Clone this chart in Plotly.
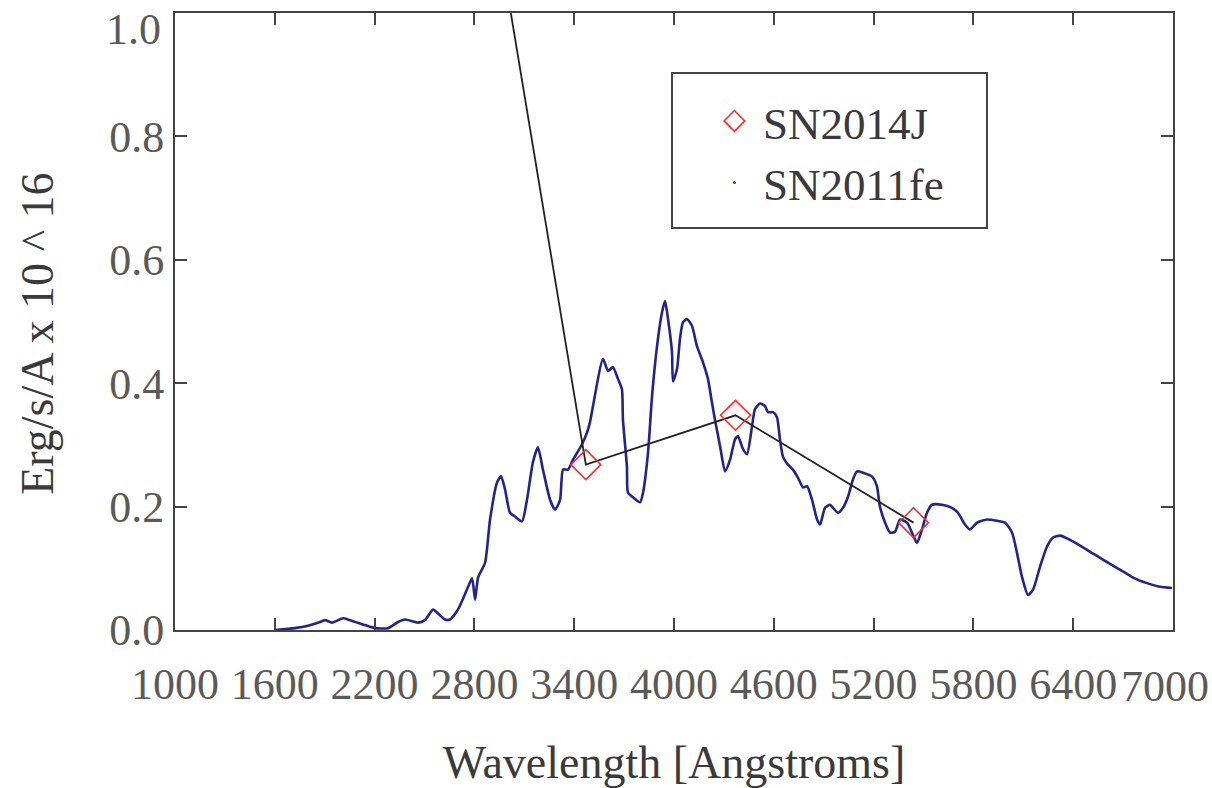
import plotly.graph_objects as go

# SN2011fe spectrum (wavelength in Angstroms, flux in erg/s/A x 10^16)
fe_wave = [1601, 1721, 1800, 1872, 1902, 1944, 2010, 2052, 2142, 2202, 2281, 2341, 2383, 2461,
           2503, 2551, 2581, 2623, 2653, 2701, 2762, 2786, 2804, 2822, 2864, 2894, 2936, 2960,
           2984, 3014, 3044, 3086, 3116, 3152, 3182, 3212, 3255, 3285, 3315, 3333, 3363, 3393,
           3447, 3477, 3495, 3573, 3603, 3633, 3663, 3687, 3693, 3717, 3723, 3754, 3796, 3814,
           3844, 3868, 3898, 3928, 3946, 3964, 3988, 3994, 4018, 4036, 4054, 4078, 4108, 4138,
           4174, 4204, 4228, 4246, 4277, 4307, 4337, 4367, 4385, 4415, 4439, 4469, 4487, 4517,
           4547, 4565, 4595, 4619, 4637, 4655, 4685, 4715, 4745, 4776, 4800, 4830, 4860, 4878,
           4908, 4938, 4956, 4986, 5016, 5046, 5076, 5100, 5136, 5190, 5220, 5238, 5269, 5299,
           5329, 5359, 5401, 5437, 5461, 5491, 5521, 5551, 5611, 5671, 5707, 5749, 5779, 5822,
           5882, 5942, 5990, 6032, 6062, 6092, 6128, 6158, 6200, 6242, 6279, 6321, 6381, 6483,
           6579, 6681, 6760, 6844, 6922, 6994]
fe_flux = [0.000, 0.003, 0.007, 0.013, 0.016, 0.012, 0.019, 0.016, 0.008, 0.003, 0.003, 0.013, 0.017, 0.012,
           0.016, 0.033, 0.027, 0.017, 0.017, 0.033, 0.070, 0.084, 0.049, 0.085, 0.109, 0.179, 0.239, 0.249,
           0.228, 0.190, 0.184, 0.176, 0.211, 0.272, 0.296, 0.260, 0.211, 0.195, 0.211, 0.260, 0.260, 0.276,
           0.301, 0.320, 0.337, 0.439, 0.420, 0.426, 0.407, 0.390, 0.341, 0.265, 0.223, 0.215, 0.207, 0.223,
           0.288, 0.379, 0.460, 0.515, 0.533, 0.504, 0.450, 0.403, 0.423, 0.472, 0.499, 0.504, 0.493, 0.460,
           0.434, 0.407, 0.369, 0.341, 0.298, 0.257, 0.276, 0.309, 0.314, 0.293, 0.285, 0.330, 0.358, 0.367,
           0.363, 0.353, 0.353, 0.345, 0.309, 0.281, 0.268, 0.260, 0.247, 0.231, 0.233, 0.211, 0.179, 0.171,
           0.198, 0.203, 0.198, 0.190, 0.198, 0.216, 0.244, 0.257, 0.255, 0.249, 0.233, 0.200, 0.174, 0.158,
           0.159, 0.179, 0.174, 0.154, 0.141, 0.163, 0.190, 0.203, 0.203, 0.198, 0.190, 0.171, 0.163, 0.174,
           0.179, 0.177, 0.174, 0.158, 0.125, 0.086, 0.057, 0.065, 0.102, 0.135, 0.150, 0.153, 0.146, 0.130,
           0.114, 0.098, 0.085, 0.076, 0.070, 0.068]

# SN2014J photometric points (first one lies above the plotted range)
j_wave = [2600, 3470, 4370, 5440]
j_flux = [1.68, 0.268, 0.348, 0.174]

x_ticks = [1000, 1600, 2200, 2800, 3400, 4000, 4600, 5200, 5800, 6400, 7000]
y_ticks = [0.0, 0.2, 0.4, 0.6, 0.8, 1.0]

SERIF = "Liberation Serif, Times New Roman, Times, serif"
TICK_FONT = dict(family=SERIF, size=44, color="#5a5a5a")
TITLE_FONT = dict(family=SERIF, size=46, color="#3a3a3a")

fig = go.Figure()

fig.add_trace(go.Scatter(x=fe_wave, y=fe_flux, mode="lines",
                         line=dict(color="#23238c", width=2.6, shape="spline", smoothing=0.6),
                         showlegend=False))
fig.add_trace(go.Scatter(x=j_wave, y=j_flux, mode="lines",
                         line=dict(color="#222222", width=1.8), showlegend=False))
fig.add_trace(go.Scatter(x=j_wave[1:], y=j_flux[1:], mode="markers", name="SN2014J",
                         marker=dict(symbol="diamond-open", size=23, color="#ff2a2a",
                                     line=dict(width=1.6, color="#ff2a2a"))))
fig.add_trace(go.Scatter(x=[None], y=[None], mode="markers", name="SN2011fe",
                         marker=dict(symbol="circle", size=3, color="#3535c8")))

axis_common = dict(showline=True, linecolor="#444444", linewidth=2, mirror="allticks",
                   ticks="inside", ticklen=12, tickwidth=2, tickcolor="#444444",
                   showgrid=False, zeroline=False, ticklabeloverflow="allow",
                   automargin=False, tickfont=TICK_FONT)

# edge labels (first/last) are placed as annotations so they stay inside the page
x_text = [str(v) for v in x_ticks[:-1]] + [""]
y_text = ["%.1f" % v for v in y_ticks[:-1]] + [""]

fig.update_xaxes(range=[1000, 7000], tickvals=x_ticks, ticktext=x_text,
                 ticklabelstandoff=14,
                 title=dict(text="Wavelength [Angstroms]", standoff=40, font=TITLE_FONT),
                 **axis_common)
fig.update_yaxes(range=[0, 1.0], tickvals=y_ticks, ticktext=y_text,
                 **axis_common)

fig.add_annotation(x=x_ticks[-1], xref="x", y=0, yref="paper", text=str(x_ticks[-1]),
                   showarrow=False, xanchor="center", yanchor="middle",
                   xshift=-8, yshift=-56, font=TICK_FONT)
fig.add_annotation(x=0, xref="paper", y=y_ticks[-1], yref="y", text="%.1f" % y_ticks[-1],
                   showarrow=False, xanchor="right", yanchor="top",
                   xshift=-12, yshift=10, font=TICK_FONT)
fig.add_annotation(x=-0.1373, xref="paper", y=0.48, yref="paper", text="Erg/s/A x 10 ^ 16",
                   showarrow=False, textangle=-90, xanchor="center", yanchor="middle",
                   font=TITLE_FONT)

# legend frame drawn separately so the entries can sit inside it like the original
fig.add_shape(type="rect", xref="paper", yref="paper",
              x0=0.498, x1=0.8136, y0=0.6515, y1=0.9027,
              line=dict(color="#444444", width=2), fillcolor="rgba(0,0,0,0)", layer="above")

fig.update_layout(
    width=1212, height=788,
    margin=dict(l=175, r=39, t=13, b=158),
    paper_bgcolor="white", plot_bgcolor="white",
    legend=dict(x=0.532, y=0.883, xanchor="left", yanchor="top",
                bgcolor="rgba(0,0,0,0)", borderwidth=0, itemwidth=47,
                font=dict(family=SERIF, size=45, color="#3a3a3a"),
                itemsizing="trace"),
)

fig.write_html("out.html")
